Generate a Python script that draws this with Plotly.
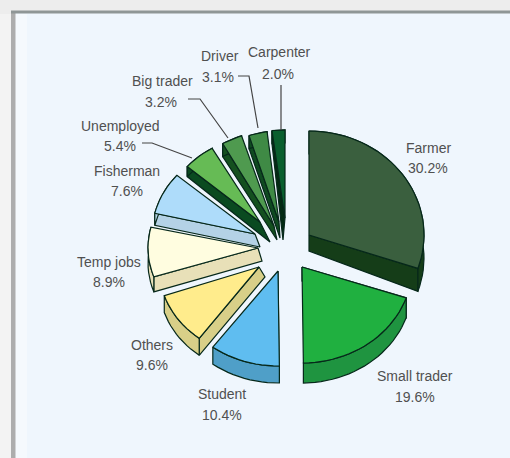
import math
import plotly.graph_objects as go

# Occupation shares, clockwise from twelve o'clock
occupations = ["Farmer", "Small trader", "Student", "Others", "Temp jobs",
               "Fisherman", "Unemployed", "Big trader", "Driver", "Carpenter"]
shares = [30.2, 19.6, 10.4, 9.6, 8.9, 7.6, 5.4, 3.2, 3.1, 2.0]

top_colors = ["#3a5f3e", "#20b040", "#5fbdf0", "#ffec8c", "#fffde0",
              "#aedcfa", "#66bb55", "#4f9a4f", "#3f8a45", "#0a5f2e"]
side_colors = ["#153d18", "#1f9440", "#4f9fc8", "#d8cf88", "#e8e0b8",
               "#b4d2e6", "#0a4a20", "#14501f", "#0f4a20", "#032a12"]

# Exploded slice geometry in page pixels: apex, radii, and extrusion of each slice
apex_x = [309, 302, 278, 259, 258, 255, 260, 274, 279, 285]
apex_y = [235, 267, 271, 267, 248, 234, 222, 226, 222, 218]
radius_x = [115, 110, 109, 100, 110, 103, 96, 103, 95, 104]
radius_y = [104, 96, 95, 89, 90, 90, 85, 95, 91, 88]
wall_apex_dx = [0, 0, 0, 6, 4, 5, 10, 3, 1, -2]
wall_apex_dy = [16, 14, 12, 10, 13, 13, 20, 14, 16, 22]
wall_rim = [23, 20, 17, 17, 15, 12, 10, 13, 13, 13]

# Label placement: centre x and y of each text line
name_pos = [(428, 148), (415, 376), (222, 394), (152, 345), (109, 262),
            (127, 171), (120, 126), (162, 81), (220, 56), (279, 52)]
value_pos = [(428, 168), (415, 397), (222, 415), (152, 365), (109, 282),
             (127, 191), (120, 146), (161, 102), (218, 77), (278, 74)]
leaders = [
    ([142, 152, 192], [143, 143, 158]),
    ([188, 200, 228], [99, 99, 138]),
    ([238, 249, 258], [76, 76, 128]),
    ([281, 281], [85, 130]),
]

fig = go.Figure()


def polygon(points, fill, outline="#06281a", width=1.2):
    fig.add_trace(go.Scatter(
        x=[p[0] for p in points], y=[p[1] for p in points],
        mode="lines", fill="toself", fillcolor=fill,
        line=dict(color=outline, width=width),
        hoverinfo="skip", showlegend=False))


def slice_faces(i, start_frac, frac):
    apex = (apex_x[i], apex_y[i])
    steps = max(6, int(frac * 120))
    rim = []
    for k in range(steps + 1):
        a = 2 * math.pi * (start_frac + frac * k / steps)
        rim.append((apex[0] + radius_x[i] * math.sin(a),
                    apex[1] - radius_y[i] * math.cos(a)))
    lower_apex = (apex[0] + wall_apex_dx[i], apex[1] + wall_apex_dy[i])
    lower_rim = [(x, y + wall_rim[i]) for x, y in rim]
    # Only the radial wall on the downward-facing edge is visible
    edge = -1 if i == 0 else 0
    polygon([apex, rim[edge], lower_rim[edge], lower_apex, apex], side_colors[i])
    polygon(rim + lower_rim[::-1] + [rim[0]], side_colors[i])
    polygon([apex] + rim + [apex], top_colors[i])


# Background panel with its heavy top and left rules
fig.add_shape(type="rect", x0=15, y0=12, x1=512, y1=460,
              fillcolor="#eff6fd", line=dict(width=0), layer="below")
fig.add_shape(type="rect", x0=0, y0=14, x1=11, y1=460,
              fillcolor="#f3f3f3", line=dict(width=0), layer="below")
fig.add_shape(type="rect", x0=15, y0=14, x1=27, y1=460,
              fillcolor="#f5f9fd", line=dict(width=0), layer="below")
fig.add_shape(type="rect", x0=11, y0=12, x1=15.5, y1=460,
              fillcolor="#adadad", line=dict(width=0), layer="below")
fig.add_shape(type="rect", x0=11, y0=10.5, x1=512, y1=13.5,
              fillcolor="#8f9696", line=dict(width=0), layer="below")

total = sum(shares)
starts = []
running = 0.0
for value in shares:
    starts.append(running / total)
    running += value

# Back slices first so the front ones overlap them
for i in [9, 8, 7, 6, 5, 4, 3, 2, 0, 1]:
    slice_faces(i, starts[i], shares[i] / total)

for xs, ys in leaders:
    fig.add_trace(go.Scatter(x=xs, y=ys, mode="lines",
                             line=dict(color="#444444", width=1.2),
                             hoverinfo="skip", showlegend=False))

for name, value, (nx, ny), (vx, vy) in zip(occupations, shares, name_pos, value_pos):
    for text, x, y in ((name, nx, ny), (f"{value:.1f}%", vx, vy)):
        fig.add_annotation(x=x, y=y, text=text, showarrow=False,
                           xanchor="center", yanchor="middle",
                           font=dict(family="Liberation Sans", size=14, color="#505050"))

fig.update_layout(
    width=510, height=458, margin=dict(l=0, r=0, t=0, b=0),
    paper_bgcolor="#ededed", plot_bgcolor="rgba(0,0,0,0)", showlegend=False,
    xaxis=dict(range=[0, 510], visible=False, fixedrange=True),
    yaxis=dict(range=[458, 0], visible=False, fixedrange=True),
)
fig.write_html("out.html", config={"displayModeBar": False})
